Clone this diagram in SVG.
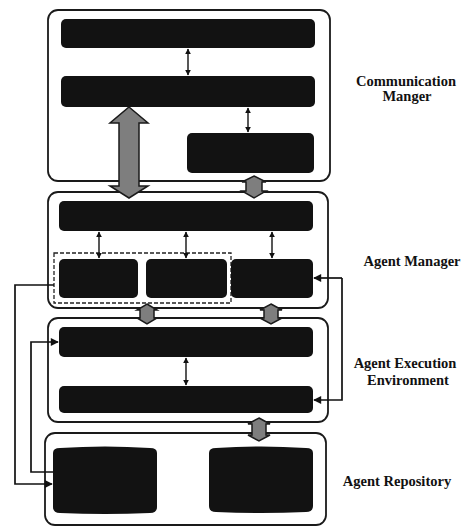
<svg xmlns="http://www.w3.org/2000/svg" width="464" height="527" viewBox="0 0 464 527">
<defs>
<style>
.layer{fill:#fff;stroke:#1a1a1a;stroke-width:1.8}
.bar{fill:#121212}
.garrow{fill:#7e7e7e;stroke:#1a1a1a;stroke-width:1.5;stroke-linejoin:miter}
.thin{fill:none;stroke:#111;stroke-width:1.4;marker-start:url(#ah);marker-end:url(#ah)}
.conn{fill:none;stroke:#111;stroke-width:1.7}
.dash{fill:none;stroke:#222;stroke-width:1.3;stroke-dasharray:4 2}
.lbl{font-family:"Liberation Serif","Times New Roman",serif;font-weight:bold;font-size:14.5px;fill:#111;text-anchor:middle}
</style>
<marker id="ah" viewBox="0 0 10 10" refX="9" refY="5" markerWidth="6" markerHeight="6" orient="auto-start-reverse" markerUnits="userSpaceOnUse">
<path d="M0,0 L10,5 L0,10 Z" fill="#111"/>
</marker>
<marker id="ah2" viewBox="0 0 10 10" refX="9" refY="5" markerWidth="9" markerHeight="8" orient="auto" markerUnits="userSpaceOnUse">
<path d="M0,0 L10,5 L0,10 Z" fill="#111"/>
</marker>
</defs>

<g id="communication-manager">
<rect class="layer" x="48" y="10" width="282" height="171" rx="10"/>
<rect class="bar" x="61" y="19" width="254" height="29" rx="5"/>
<rect class="bar" x="61" y="76" width="254" height="31" rx="5"/>
<rect class="bar" x="187" y="133" width="127" height="40" rx="5"/>
<text class="lbl" x="406" y="86">Communication</text>
<text class="lbl" x="407" y="101">Manger</text>
</g>

<g id="agent-manager">
<rect class="layer" x="48" y="192" width="280" height="116" rx="10"/>
<rect class="bar" x="59" y="201" width="254" height="30" rx="5"/>
<rect class="dash" x="54" y="253" width="177" height="50"/>
<rect class="bar" x="59" y="259" width="79" height="39" rx="5"/>
<rect class="bar" x="146" y="259" width="81" height="39" rx="5"/>
<rect class="bar" x="231" y="259" width="82" height="39" rx="5"/>
<text class="lbl" x="412" y="266">Agent Manager</text>
</g>

<g id="agent-execution-environment">
<rect class="layer" x="48" y="318" width="280" height="104" rx="10"/>
<rect class="bar" x="59" y="327" width="254" height="30" rx="5"/>
<rect class="bar" x="59" y="386" width="254" height="27" rx="5"/>
<text class="lbl" x="405" y="368">Agent Execution</text>
<text class="lbl" x="408" y="385">Environment</text>
</g>

<g id="agent-repository">
<rect class="layer" x="45" y="433" width="281" height="92" rx="10"/>
<path class="bar" d="M53,453 Q53,448 60,448 Q105,445 150,448 Q157,448 157,453 L157,507 Q157,513 150,513 Q105,515 60,513 Q53,513 53,507 Z"/>
<path class="bar" d="M209,453 Q209,448 216,448 Q261,445 306,448 Q313,448 313,453 L313,506 Q313,512 306,512 Q261,514 216,512 Q209,512 209,506 Z"/>
<text class="lbl" x="397" y="486">Agent Repository</text>
</g>

<g id="connectors">
<line class="thin" x1="188" y1="49" x2="188" y2="75"/>
<line class="thin" x1="248" y1="108" x2="248" y2="132"/>
<line class="thin" x1="99" y1="232" x2="99" y2="258"/>
<line class="thin" x1="186" y1="232" x2="186" y2="258"/>
<line class="thin" x1="272" y1="232" x2="272" y2="258"/>
<line class="thin" x1="186" y1="358" x2="186" y2="385"/>
<polygon class="garrow" points="129,107 148,123 139,123 139,186 148,186 129,198 110,186 119,186 119,123 110,123"/>
<polygon class="garrow" points="254,176 266,182 262,182 262,191 266,191 254,198 242,191 246,191 246,182 242,182"/>
<polygon class="garrow" points="147,304 157,310 154,310 154,318 157,318 147,324 137,318 140,318 140,310 137,310"/>
<polygon class="garrow" points="271,304 282,310 278,310 278,318 282,318 271,324 260,318 264,318 264,310 260,310"/>
<polygon class="garrow" points="259,418 270,424 266,424 266,435 270,435 259,441 248,435 252,435 252,424 248,424"/>
<polyline class="conn" points="54,285 15,285 15,484 52,484" marker-end="url(#ah2)"/>
<polyline class="conn" points="53,472 31,472 31,342 58,342" marker-end="url(#ah2)"/>
<polyline class="conn" points="342,278 342,400 314,400" marker-end="url(#ah2)"/>
<line class="conn" x1="342" y1="278" x2="314" y2="278" marker-end="url(#ah2)"/>
</g>
</svg>
